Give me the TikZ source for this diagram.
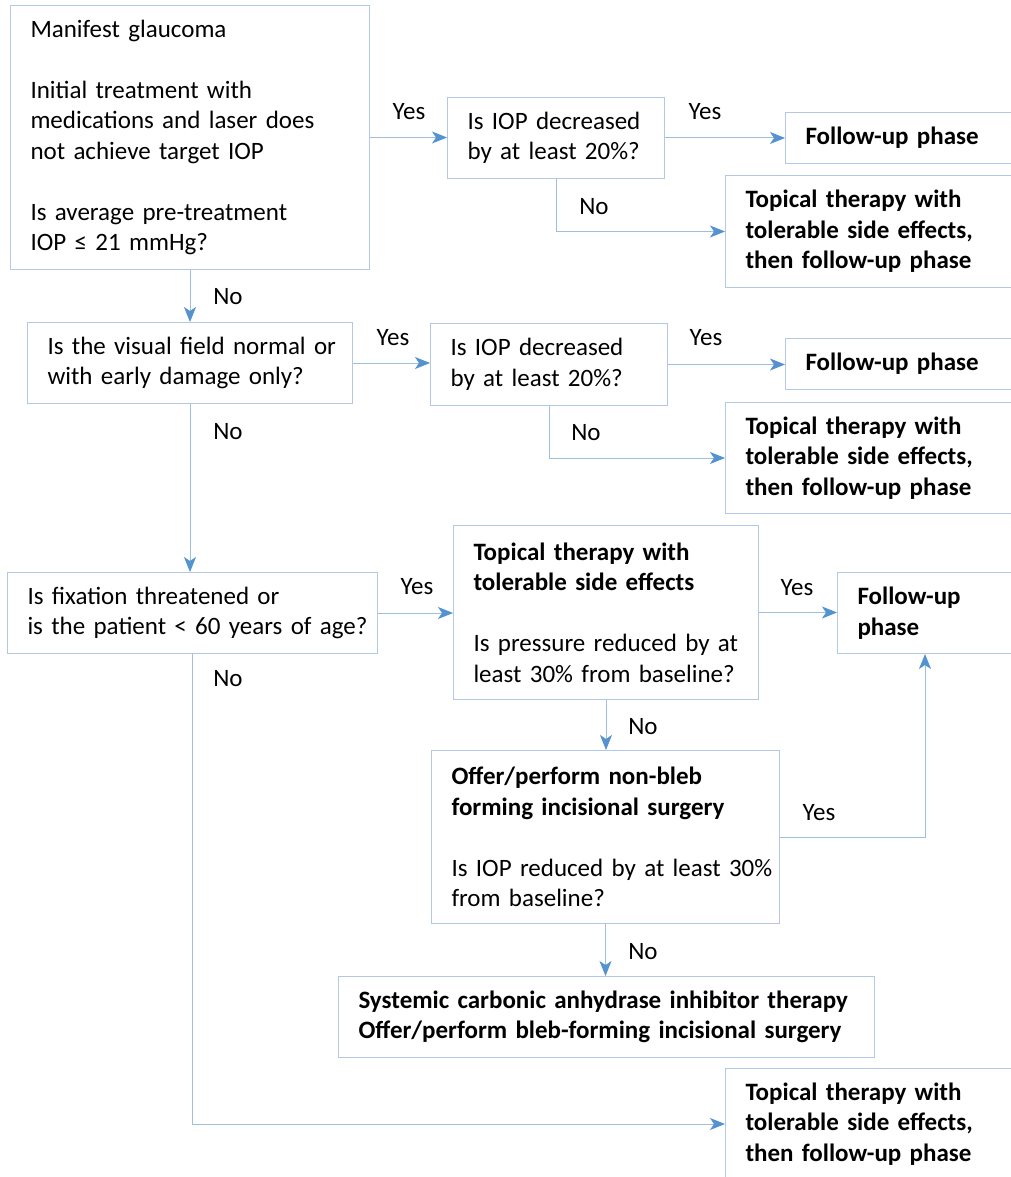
\documentclass[tikz,border=0pt]{standalone}
\usepackage{fontspec}
\setmainfont{Carlito}[UprightFeatures={WordSpace=0.5},BoldFeatures={WordSpace=1}]
\usepackage{xcolor,tikz}
\usetikzlibrary{arrows.meta,positioning,calc}
\definecolor{boxline}{RGB}{178,200,228}
\definecolor{arrline}{RGB}{160,190,222}
\definecolor{arrtip}{RGB}{84,146,208}
\begin{document}
\begin{tikzpicture}[x=1pt,y=-1pt,font=\fontsize{25}{30.5}\selectfont,box/.style={draw=boxline,line width=1pt,align=left,anchor=north west,inner xsep=20pt,inner ysep=0pt},arr/.style={-{Stealth[length=15pt,width=12pt,inset=4pt,color=arrtip]},draw=arrline,line width=1pt},lbl/.style={inner sep=0pt}]
\useasboundingbox (0,0) rectangle (1010,1177);
\node[box,text width=319pt,minimum height=264pt] (glaucoma) at (10,5) {Manifest glaucoma\\[30.5pt]Initial treatment with\\\mbox{medications and laser does}\\not achieve target IOP\\[30.5pt]Is average pre-treatment\\IOP ≤ 21 mmHg?};
\node[box,text width=177pt,minimum height=81pt] (iopA) at (447,97) {Is IOP decreased\\by at least 20\%?};
\node[box,text width=215pt,minimum height=51pt] (followA) at (785,112) {\textbf{Follow-up phase}};
\node[box,text width=275pt,minimum height=112pt] (topicalA) at (725,175) {\textbf{Topical therapy with}\\\textbf{tolerable side effects,}\\\textbf{then follow-up phase}};
\node[box,text width=285pt,minimum height=81pt] (field) at (27,322) {\mbox{Is the visual field normal or}\\with early damage only?};
\node[box,text width=197pt,minimum height=82pt] (iopB) at (430,323) {Is IOP decreased\\by at least 20\%?};
\node[box,text width=215pt,minimum height=51pt] (followB) at (785,338) {\textbf{Follow-up phase}};
\node[box,text width=275pt,minimum height=111pt] (topicalB) at (725,402) {\textbf{Topical therapy with}\\\textbf{tolerable side effects,}\\\textbf{then follow-up phase}};
\node[box,text width=330pt,minimum height=81pt] (fixation) at (7,572) {Is fixation threatened or\\\mbox{is the patient < 60 years of age?}};
\node[box,text width=265pt,minimum height=174pt] (topicalC) at (453,525) {\textbf{Topical therapy with}\\\textbf{tolerable side effects}\\[30.5pt]\mbox{Is pressure reduced by at}\\\mbox{least 30\% from baseline?}};
\node[box,text width=163pt,minimum height=81pt] (followC) at (837,572) {\textbf{Follow-up}\\\textbf{phase}};
\node[box,text width=308pt,minimum height=173pt] (nonbleb) at (431,750) {\textbf{Offer/perform non-bleb}\\\textbf{forming incisional surgery}\\[30.5pt]\mbox{Is IOP reduced by at least 30\%}\\from baseline?};
\node[box,text width=496pt,minimum height=81pt] (systemic) at (338,976) {\textbf{Systemic carbonic anhydrase inhibitor therapy}\\\textbf{Offer/perform bleb-forming incisional surgery}};
\node[box,text width=275pt,minimum height=111pt] (topicalD) at (725,1068) {\textbf{Topical therapy with}\\\textbf{tolerable side effects,}\\\textbf{then follow-up phase}};
\node[lbl] (yesIopA) at (409,112) {Yes};
\node[lbl] (yesFollowA) at (705,112) {Yes};
\node[lbl] (noTopicalA) at (594,207) {No};
\node[lbl] (noField) at (228,297) {No};
\node[lbl] (yesIopB) at (393,338) {Yes};
\node[lbl] (yesFollowB) at (706,338) {Yes};
\node[lbl] (noTopicalB) at (586,433) {No};
\node[lbl] (noFixation) at (228,432) {No};
\node[lbl] (yesTopicalC) at (417,587) {Yes};
\node[lbl] (yesFollowC) at (797,588) {Yes};
\node[lbl] (noNonbleb) at (643,727) {No};
\node[lbl] (yesNonbleb) at (819,813) {Yes};
\node[lbl] (noSystemic) at (643,952) {No};
\node[lbl] (noTopicalD) at (228,679) {No};
\draw[arr] (glaucoma.east) -- (glaucoma.east -| iopA.west);
\draw[arr] (iopA.east) -- (iopA.east -| followA.west);
\draw[arr] (iopA.south) |- (topicalA.west);
\draw[arr] (glaucoma.south) -- (glaucoma.south |- field.north);
\draw[arr] (field.east) -- (field.east -| iopB.west);
\draw[arr] (iopB.east) -- (iopB.east -| followB.west);
\draw[arr] (iopB.south) |- (topicalB.west);
\draw[arr] (field.south) -- (field.south |- fixation.north);
\draw[arr] (fixation.east) -- (fixation.east -| topicalC.west);
\draw[arr] (topicalC.east) -- (topicalC.east -| followC.west);
\draw[arr] (topicalC.south) -- (topicalC.south |- nonbleb.north);
\draw[arr] (nonbleb.east) -| ([xshift=88pt]followC.south west);
\draw[arr] (nonbleb.south) -- (nonbleb.south |- systemic.north);
\draw[arr] (fixation.south) |- (topicalD.west);
\end{tikzpicture}
\end{document}
